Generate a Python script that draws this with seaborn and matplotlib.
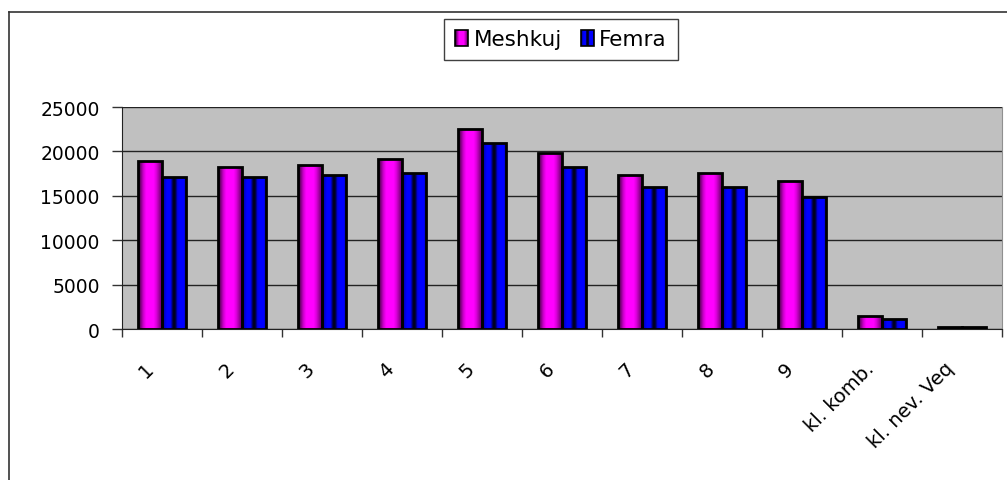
import numpy as np
import pandas as pd
import matplotlib
matplotlib.use("Agg")
import matplotlib.pyplot as plt
import seaborn as sns
from matplotlib.patches import Rectangle
from matplotlib.lines import Line2D
from matplotlib.legend_handler import HandlerBase
from matplotlib.transforms import ScaledTranslation

# ---- data ----
categories = ['1', '2', '3', '4', '5', '6', '7', '8', '9', 'kl. komb.', 'kl. nev. Veq']
meshkuj = [18900, 18250, 18500, 19150, 22500, 19850, 17350, 17600, 16700, 1430, 250]
femra = [17100, 17100, 17350, 17600, 20950, 18250, 16000, 16000, 14900, 1130, 200]
series_names = ['Meshkuj', 'Femra']
y_ticks = [0, 5000, 10000, 15000, 20000, 25000]

df = pd.DataFrame({
    'cat': categories * 2,
    'value': meshkuj + femra,
    'sex': [series_names[0]] * len(categories) + [series_names[1]] * len(categories),
})

plt.rcParams['font.family'] = ['DejaVu Sans']

W, H = 1007, 481
fig = plt.figure(figsize=(W / 100, H / 100), dpi=100)
ax = fig.add_axes([122 / W, 1 - 330 / H, 880 / W, 222 / H])
ax.set_facecolor('#C0C0C0')

palette = {'Meshkuj': '#FF00FF', 'Femra': '#0000FF'}
sns.barplot(data=df, x='cat', y='value', hue='sex', order=categories,
            hue_order=series_names, palette=palette, width=0.59, gap=0,
            edgecolor='black', linewidth=2.0, saturation=1, ax=ax,
            legend=False, zorder=3)

# gradient shading profiles (style)
def magenta_cols(n=48):
    t = np.linspace(0, 1, n)
    b = np.interp(t, [0, 0.1, 0.22, 0.34, 0.66, 0.78, 0.9, 1.0],
                  [0.2, 0.45, 0.8, 1.0, 1.0, 0.85, 0.6, 0.4])
    return np.stack([b, np.zeros_like(b), b], axis=1)

def blue_cols(n=48):
    t = np.linspace(0, 1, n)
    b = np.interp(t, [0, 0.08, 0.2, 0.36, 0.44, 0.5, 0.58, 0.64, 0.72, 0.92, 1.0],
                  [0.35, 0.75, 1.0, 1.0, 0.3, 0.05, 0.3, 0.9, 1.0, 1.0, 0.7])
    return np.stack([np.zeros_like(b), np.zeros_like(b), b], axis=1)

grads = [magenta_cols(), blue_cols()]
for gi, cont in enumerate(ax.containers):
    cols = grads[gi]
    for p in cont.patches:
        x0, w, h = p.get_x(), p.get_width(), p.get_height()
        if h <= 0:
            continue
        im = ax.imshow(cols[np.newaxis, :, :], extent=[x0, x0 + w, 0, h],
                       aspect='auto', interpolation='bilinear', zorder=2.9)
        im.set_clip_path(p)
        p.set_facecolor('none')
        p.set_zorder(3.1)

ax.set_xlim(-0.5, len(categories) - 0.5)
ax.set_ylim(0, 25000)
ax.set_yticks(y_ticks)
ax.set_yticklabels([str(v) for v in y_ticks], fontsize=13.5)
ax.yaxis.grid(True, color='#222222', linewidth=1.0)
ax.set_axisbelow(True)
ax.set_xlabel('')
ax.set_ylabel('')

ax.set_xticks(range(len(categories)))
ax.set_xticks(np.arange(-0.5, len(categories), 1.0), minor=True)
ax.set_xticklabels(categories, fontsize=14, rotation=45, ha='right',
                   va='center', rotation_mode='anchor')
ax.tick_params(axis='x', which='major', length=0, pad=26)
ax.tick_params(axis='x', which='minor', length=6, width=1, color='#333333')
ax.tick_params(axis='y', length=7, width=1, color='#333333', pad=9)
off = ScaledTranslation(-11 / 100, 0, fig.dpi_scale_trans)
for lab in ax.get_xticklabels():
    lab.set_transform(lab.get_transform() + off)

ax.spines['top'].set_visible(False)
ax.spines['right'].set_color('#909090')
ax.spines['left'].set_color('#222222')
ax.spines['bottom'].set_color('#222222')

# legend with gradient markers
class GradHandler(HandlerBase):
    def __init__(self, cols):
        super().__init__()
        self.cols = cols

    def create_artists(self, legend, orig_handle, xdescent, ydescent, width,
                       height, fontsize, trans):
        n = len(self.cols)
        arts = []
        for i, c in enumerate(self.cols):
            r = Rectangle((-xdescent + width * i / n, -ydescent), width / n + 0.3,
                          height, facecolor=c, edgecolor='none', transform=trans)
            arts.append(r)
        arts.append(Rectangle((-xdescent, -ydescent), width, height,
                              facecolor='none', edgecolor='black', linewidth=1.2,
                              transform=trans))
        return arts

h1 = Rectangle((0, 0), 1, 1)
h2 = Rectangle((0, 0), 1, 1)
leg = fig.legend([h1, h2], series_names, loc='center',
                 bbox_to_anchor=(561 / W, 1 - 40.5 / H), ncol=2, fontsize=15.5,
                 handler_map={h1: GradHandler(magenta_cols(24)),
                              h2: GradHandler(blue_cols(24))},
                 handlelength=0.6, handleheight=0.7, handletextpad=0.25,
                 columnspacing=0.9, borderpad=0.5, frameon=True,
                 fancybox=False, shadow=False, framealpha=1)
leg.get_frame().set_edgecolor('#404040')
leg.get_frame().set_linewidth(1.0)

# outer chart border (cropped)
fig.add_artist(Line2D([8.5 / W, 8.5 / W], [0, 1 - 12.5 / H], transform=fig.transFigure,
                      color='#333333', linewidth=1.2))
fig.add_artist(Line2D([8.5 / W, 1], [1 - 12.5 / H, 1 - 12.5 / H], transform=fig.transFigure,
                      color='#333333', linewidth=1.2))

fig.savefig('out.png', dpi=100, facecolor='white')
